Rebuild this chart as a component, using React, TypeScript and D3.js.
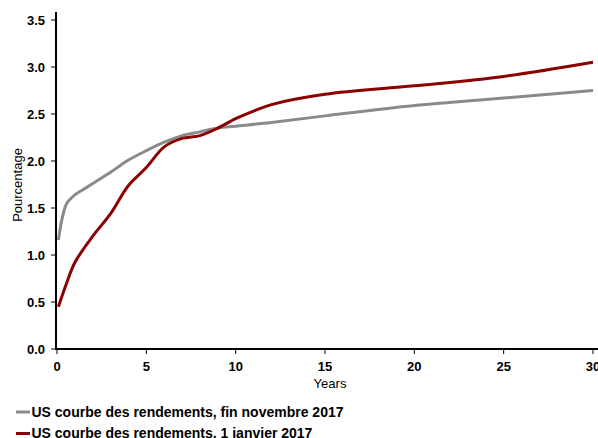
import * as d3 from "d3";
import { useMemo } from "react";

// US yield curves
const grayYears = [0.08, 0.3, 0.55, 1, 1.5, 2, 3, 4, 5, 6, 7, 8, 9, 10, 12, 15, 20, 25, 30];
const grayRates = [1.16, 1.4, 1.55, 1.64, 1.7, 1.76, 1.88, 2.01, 2.11, 2.2, 2.27, 2.31, 2.35, 2.37, 2.41, 2.48, 2.59, 2.67, 2.75];

const redYears = [0.08, 0.5, 1, 2, 3, 4, 5, 6, 7, 8, 9, 10, 11, 12, 15, 20, 25, 30];
const redRates = [0.45, 0.68, 0.92, 1.2, 1.44, 1.74, 1.93, 2.15, 2.24, 2.27, 2.35, 2.45, 2.53, 2.6, 2.71, 2.8, 2.9, 3.05];

const xTicks = [0, 5, 10, 15, 20, 25, 30];
const yTicks = [0, 0.5, 1, 1.5, 2, 2.5, 3, 3.5];

const legendLabels = [
  "US courbe des rendements, fin novembre 2017",
  "US courbe des rendements, 1 janvier 2017",
];
const seriesColors = ["#8a8a8a", "#8b0000"];

export default function App() {
  const width = 598;
  const height = 438;
  const left = 56;
  const bottom = 349;

  const x = useMemo(() => d3.scaleLinear().domain([0, 30]).range([57, 593]), []);
  const y = useMemo(() => d3.scaleLinear().domain([0, 3.5]).range([bottom, 20]), []);

  const line = d3
    .line<[number, number]>()
    .x((d) => x(d[0]))
    .y((d) => y(d[1]))
    .curve(d3.curveCatmullRom.alpha(0.5));

  const series = [
    grayYears.map((v, i) => [v, grayRates[i]] as [number, number]),
    redYears.map((v, i) => [v, redRates[i]] as [number, number]),
  ];

  const font = "'Liberation Sans', Arial, sans-serif";

  return (
    <svg
      width={width}
      height={height}
      style={{ position: "absolute", left: 0, top: 0, background: "#fff" }}
      fontFamily={font}
    >
      {series.map((pts, i) => (
        <path key={i} d={line(pts) ?? ""} fill="none" stroke={seriesColors[i]} strokeWidth={3} />
      ))}

      {/* y axis */}
      <line x1={left} x2={left} y1={12} y2={bottom + 1} stroke="#000" strokeWidth={2} />
      {yTicks.map((t) => (
        <g key={`y-${t}`} transform={`translate(0,${y(t)})`}>
          <line x1={left - 5} x2={left} stroke="#000" strokeWidth={1} />
          <text x={left - 11} y={4.5} textAnchor="end" fontSize={13} fontWeight="bold" fill="#000">
            {d3.format(".1f")(t)}
          </text>
        </g>
      ))}

      {/* x axis */}
      <line x1={left} x2={width} y1={bottom} y2={bottom} stroke="#000" strokeWidth={2} />
      {xTicks.map((t) => (
        <g key={`x-${t}`} transform={`translate(${x(t)},0)`}>
          <line y1={bottom} y2={bottom + 5} stroke="#000" strokeWidth={1} />
          <text y={bottom + 22} textAnchor="middle" fontSize={13} fontWeight="bold" fill="#000">
            {t}
          </text>
        </g>
      ))}

      <text x={330} y={388} textAnchor="middle" fontSize={13} fill="#000">
        Years
      </text>
      <text transform={`translate(22,185) rotate(-90)`} textAnchor="middle" fontSize={13} fill="#000">
        Pourcentage
      </text>

      {legendLabels.map((label, i) => (
        <g key={label} transform={`translate(0,${412 + i * 21.5})`}>
          <line x1={16} x2={30} stroke={seriesColors[i]} strokeWidth={3} />
          <text x={31.5} y={4.5} fontSize={14} fontWeight="bold" fill="#000">
            {label}
          </text>
        </g>
      ))}
    </svg>
  );
}
